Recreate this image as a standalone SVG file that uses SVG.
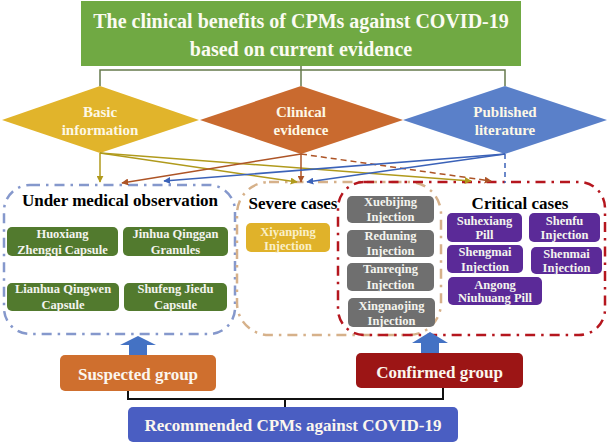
<svg xmlns="http://www.w3.org/2000/svg" width="608" height="443" viewBox="0 0 608 443">
<style>
text{font-family:'Liberation Serif','Tinos','DejaVu Serif',serif;font-weight:700;text-anchor:middle;dominant-baseline:central}
.t20{font-size:20px;fill:#fbfbf2}
.dt{font-size:15px;fill:#fdf8e6}
.hd{font-size:17px;fill:#000}
.sm{font-size:12.5px;fill:#f4f4ee}
.big{font-size:17px;fill:#fbf6ee}
.frame{fill:none;stroke-width:2.5;stroke-dasharray:10 6 2.5 6}
.ar{fill:none;stroke-width:1.5}
.gold{stroke:#b09a1c}
.brown{stroke:#ad5426}
.blue{stroke:#3b62b8}
.bk{fill:none;stroke:#111;stroke-width:2}
</style>
<defs>
<marker id="mg" viewBox="0 0 10 10" refX="9" refY="5" markerWidth="7" markerHeight="7" markerUnits="userSpaceOnUse" orient="auto"><path d="M0,0 L10,5 L0,10 z" fill="#b09a1c"/></marker>
<marker id="mb" viewBox="0 0 10 10" refX="9" refY="5" markerWidth="7" markerHeight="7" markerUnits="userSpaceOnUse" orient="auto"><path d="M0,0 L10,5 L0,10 z" fill="#ad5426"/></marker>
<marker id="ml" viewBox="0 0 10 10" refX="9" refY="5" markerWidth="7" markerHeight="7" markerUnits="userSpaceOnUse" orient="auto"><path d="M0,0 L10,5 L0,10 z" fill="#3b62b8"/></marker>
</defs>

<g id="title">
<rect x="81" y="1" width="440" height="65" fill="#70a943"/>
<text class="t20" x="301" y="21">The clinical benefits of CPMs against COVID-19</text>
<text class="t20" x="301" y="49">based on current evidence</text>
</g>

<g id="basic">
<polygon points="100,86 199,120 100,153 2,120" fill="#e1b42b"/>
<text class="dt" x="100" y="112">Basic</text>
<text class="dt" x="100" y="130">information</text>
</g>
<g id="clinical">
<polygon points="301,86 403,120 301,154 200,120" fill="#c96a2f"/>
<text class="dt" x="301" y="112">Clinical</text>
<text class="dt" x="301" y="130">evidence</text>
</g>
<g id="published">
<polygon points="505,86 607,120 505,154 403,120" fill="#5a80c9"/>
<text class="dt" x="505" y="112">Published</text>
<text class="dt" x="505" y="130">literature</text>
</g>

<g id="frames">
<rect id="observation-frame" x="4" y="185" width="231" height="149" rx="26" class="frame" stroke="#8598cc"/>
<rect id="severe-frame" x="237" y="182" width="204" height="153" rx="32" class="frame" stroke="#d6b18a"/>
<rect id="critical-frame" x="338" y="182" width="267" height="153" rx="26" class="frame" stroke="#b5161e" stroke-width="3" stroke-dasharray="12 6 3 6"/>
</g>

<g id="connectors">
<polyline class="ar" stroke="#667a4c" points="100,86 100,70 505,70 505,86"/>
<line class="ar" stroke="#667a4c" x1="301" y1="66" x2="301" y2="86"/>
<line class="ar gold" x1="100" y1="153" x2="100" y2="182" marker-end="url(#mg)"/>
<line class="ar gold" x1="100" y1="153" x2="297" y2="182" marker-end="url(#mg)"/>
<line class="ar gold" x1="100" y1="153" x2="471" y2="181" marker-end="url(#mg)"/>
<line class="ar brown" x1="301" y1="154" x2="301" y2="182" marker-end="url(#mb)"/>
<line class="ar brown" x1="301" y1="154" x2="122" y2="183" marker-end="url(#mb)"/>
<line class="ar brown" x1="301" y1="154" x2="491" y2="181" stroke-dasharray="6 4" marker-end="url(#mb)"/>
<line class="ar blue" x1="505" y1="154" x2="505" y2="183" stroke-dasharray="5 4"/>
<line class="ar blue" x1="505" y1="154" x2="164" y2="181" marker-end="url(#ml)"/>
<line class="ar blue" x1="505" y1="154" x2="307" y2="182" marker-end="url(#ml)"/>
<polygon points="129,357 129,345 120,345 138,336 156,345 147,345 147,357" fill="#4472c4"/>
<polygon points="421,355 421,343 412,343 430,332 448,343 439,343 439,355" fill="#4472c4"/>
<polyline class="bk" points="128,391 128,399 443,399 443,388"/>
<line class="bk" x1="285" y1="399" x2="285" y2="407"/>
</g>

<g id="under-medical-observation">
<text class="hd" x="120" y="200">Under medical observation</text>
</g>
<g id="huoxiang">
<rect x="7" y="227" width="111" height="29" rx="5" fill="#527a2e"/>
<text class="sm" x="62.5" y="234">Huoxiang</text>
<text class="sm" x="62.5" y="250">Zhengqi  Capsule</text>
</g>
<g id="jinhua">
<rect x="123" y="227" width="105" height="29" rx="5" fill="#527a2e"/>
<text class="sm" x="175.5" y="234">Jinhua  Qinggan</text>
<text class="sm" x="175.5" y="250">Granules</text>
</g>
<g id="lianhua">
<rect x="7" y="283" width="112" height="28" rx="5" fill="#527a2e"/>
<text class="sm" x="63" y="289">Lianhua  Qingwen</text>
<text class="sm" x="63" y="305">Capsule</text>
</g>
<g id="shufeng">
<rect x="124" y="283" width="103" height="28" rx="5" fill="#527a2e"/>
<text class="sm" x="175.5" y="289">Shufeng  Jiedu</text>
<text class="sm" x="175.5" y="305">Capsule</text>
</g>

<g id="severe-cases">
<text class="hd" x="293" y="203">Severe cases</text>
</g>
<g id="xiyanping">
<rect x="246" y="223" width="84" height="29" rx="5" fill="#e0b22a"/>
<text class="sm" x="288" y="232" style="fill:#faf0c8">Xiyanping</text>
<text class="sm" x="288" y="246" style="fill:#faf0c8">Injection</text>
</g>

<g id="xuebijing">
<rect x="347" y="196" width="87" height="27" rx="5" fill="#6f6f6f"/>
<text class="sm" x="390.5" y="202">Xuebijing</text>
<text class="sm" x="390.5" y="217">Injection</text>
</g>
<g id="reduning">
<rect x="347" y="230" width="87" height="27" rx="5" fill="#6f6f6f"/>
<text class="sm" x="390.5" y="236">Reduning</text>
<text class="sm" x="390.5" y="251">Injection</text>
</g>
<g id="tanreqing">
<rect x="347" y="263" width="87" height="28" rx="5" fill="#6f6f6f"/>
<text class="sm" x="390.5" y="269">Tanreqing</text>
<text class="sm" x="390.5" y="285">Injection</text>
</g>
<g id="xingnaojing">
<rect x="348" y="298" width="87" height="29" rx="5" fill="#6f6f6f"/>
<text class="sm" x="391.5" y="306">Xingnaojing</text>
<text class="sm" x="391.5" y="321">Injection</text>
</g>

<g id="critical-cases">
<text class="hd" x="520" y="203">Critical cases</text>
</g>
<g id="suhexiang">
<rect x="447" y="213" width="75" height="29" rx="5" fill="#5b2a98"/>
<text class="sm" x="484.5" y="221">Suhexiang</text>
<text class="sm" x="484.5" y="235">Pill</text>
</g>
<g id="shenfu">
<rect x="529" y="213" width="71" height="29" rx="5" fill="#5b2a98"/>
<text class="sm" x="564.5" y="221">Shenfu</text>
<text class="sm" x="564.5" y="235">Injection</text>
</g>
<g id="shengmai">
<rect x="447" y="245" width="76" height="28" rx="5" fill="#5b2a98"/>
<text class="sm" x="485" y="252">Shengmai</text>
<text class="sm" x="485" y="267">Injection</text>
</g>
<g id="shenmai">
<rect x="531" y="247" width="71" height="27" rx="5" fill="#5b2a98"/>
<text class="sm" x="566.5" y="254">Shenmai</text>
<text class="sm" x="566.5" y="268">Injection</text>
</g>
<g id="angong">
<rect x="448" y="277" width="94" height="28" rx="5" fill="#5b2a98"/>
<text class="sm" x="495" y="285">Angong</text>
<text class="sm" x="495" y="298">Niuhuang  Pill</text>
</g>

<g id="suspected-group">
<rect x="60" y="355" width="156" height="36" rx="5" fill="#cf6f2e"/>
<text class="big" x="138" y="374">Suspected group</text>
</g>
<g id="confirmed-group">
<rect x="356" y="353" width="167" height="35" rx="5" fill="#9c1515"/>
<text class="big" x="439.5" y="372">Confirmed group</text>
</g>
<g id="recommended">
<rect x="128" y="407" width="330" height="35" rx="5" fill="#4a5ec2"/>
<text class="big" x="293" y="425">Recommended CPMs against COVID-19</text>
</g>
</svg>
